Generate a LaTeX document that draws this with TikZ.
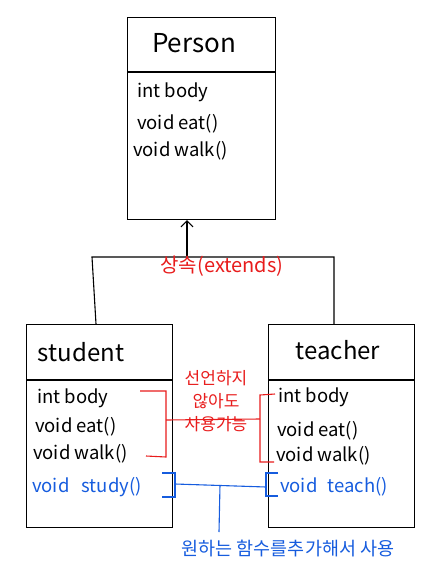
\documentclass[tikz,border=0pt]{standalone}
\usepackage{fontspec}
\setmainfont{Noto Sans CJK KR}
\usetikzlibrary{arrows.meta}
\definecolor{penred}{RGB}{232,28,28}
\definecolor{penblue}{RGB}{22,92,222}
\tikzset{
  classbox/.style={draw, line width=1.1pt, minimum width=146pt, minimum height=203pt, anchor=north west, inner sep=0pt},
  member/.style={anchor=west, inner sep=0pt, font=\fontsize{18.5}{20}\selectfont},
  title/.style={inner sep=0pt, font=\fontsize{24}{26}\selectfont},
  line/.style={line width=1.1pt},
  redpen/.style={draw=penred, line width=1.1pt},
  bluepen/.style={draw=penblue, line width=1.1pt},
}
\begin{document}
\begin{tikzpicture}[x=1pt,y=-1pt]
\useasboundingbox (0,0) rectangle (435,582);
% Person
\node[classbox, minimum width=148pt, minimum height=202pt] (person) at (127,17) {};
\draw[line] (127,72) coordinate (pdl) -- (275,72) coordinate (pdr);
\node[title, font=\fontsize{26}{28}\selectfont] (ptitle) at (194,43) {Person};
\node[member] (p1) at (137,92) {int body};
\node[member] (p2) at (137,124) {void eat()};
\node[member] (p3) at (133,151) {void walk()};
% student
\node[classbox] (student) at (26,324) {};
\draw[line] (26,380) coordinate (sdl) -- (172,380) coordinate (sdr);
\node[title] (stitle) at (81,352) {student};
\node[member] (s1) at (37,398) {int body};
\node[member] (s2) at (35,427) {void eat()};
\node[member] (s3) at (33,454) {void walk()};
\node[member, text=penblue] (s4) at (32,487) {void\hspace{8pt} study()};
% teacher
\node[classbox] (teacher) at (268,324) {};
\draw[line] (268,380) coordinate (tdl) -- (414,380) coordinate (tdr);
\node[title] (ttitle) at (338,350) {teacher};
\node[member] (t1) at (278,397) {int body};
\node[member] (t2) at (277,431) {void eat()};
\node[member] (t3) at (276,456) {void walk()};
\node[member, text=penblue] (t4) at (280,487) {void\hspace{6pt} teach()};
% inheritance connector
\coordinate (jl) at (92,257);
\coordinate (jm) at (187,256);
\coordinate (jr) at (334,257);
\draw[line] (student.north west -| 96,0) -- (jl) -- (jr) -- (teacher.north west -| 334,0);
\draw[line, -{Straight Barb[length=6pt,width=12pt]}] (jm) -- (person.south -| 187,0);
\node[text=penred, inner sep=0pt, font=\fontsize{20}{22}\selectfont] (ext) at (222,266) {상속(extends)};
% red brackets
\draw[redpen] (140,391) -- (166,391) -- (166,457) -- (146,456);
\draw[redpen] (275,394) -- (260,395) -- (260,462) -- (274,462);
\draw[redpen] (166,420) -- (260,419);
\node[text=penred, inner sep=0pt, align=center, font=\fontsize{17}{23}\selectfont] (rnote) at (216,401) {선언하지\\않아도\\사용가능};
% blue brackets
\draw[bluepen] (162,473) -- (175,473) -- (175,497) -- (162,497);
\draw[bluepen] (278,473) -- (266,473) -- (266,496) -- (278,496);
\coordinate (bmid) at (220,485);
\draw[bluepen] (175,484) -- (266,487);
\draw[bluepen] (bmid) -- (219,532);
\node[text=penblue, inner sep=0pt, font=\fontsize{18.5}{20}\selectfont] (bnote) at (288,549) {원하는 함수를추가해서 사용};
\end{tikzpicture}
\end{document}
